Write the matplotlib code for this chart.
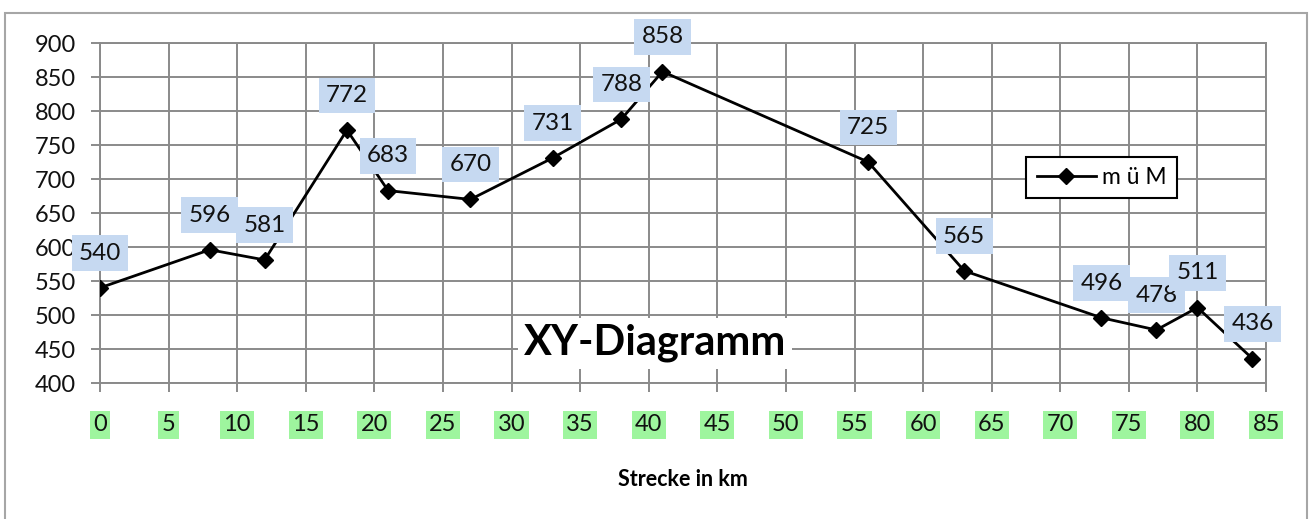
# XY-Diagramm: Höhenprofil (m ü M) entlang der Strecke
from matplotlib import pyplot as plt
from matplotlib.patches import Rectangle

# Daten ------------------------------------------
strecke_km = [0, 8, 12, 18, 21, 27, 33, 38, 41, 56, 63, 73, 77, 80, 84]
hoehe_m = [540, 596, 581, 772, 683, 670, 731, 788, 858, 725, 565, 496, 478, 511, 436]
x_ticks = list(range(0, 90, 5))
y_ticks = list(range(400, 950, 50))

plt.rcParams['font.family'] = ['Lato', 'DejaVu Sans']
grau = '#8a8a8a'

fig = plt.figure(figsize=(13.09, 5.19), dpi=100)
ax = fig.add_axes([0.0764, 0.262, 0.8908, 0.6551])

# äusserer Rahmen
fig.patches.append(Rectangle((5 / 1309, -0.1), 1302 / 1309, 1.1 - 13 / 519,
                             transform=fig.transFigure, fill=False,
                             edgecolor='#a6a6a6', lw=1.5))

# Linie mit Rauten
ax.plot(strecke_km, hoehe_m, color='black', lw=2, marker='D', markersize=8,
        label='m ü M', zorder=3)

# Datenbeschriftungen
for x, y in zip(strecke_km, hoehe_m):
    ax.annotate(str(y), (x, y), xytext=(0, 25), textcoords='offset points',
                ha='center', va='center', fontsize=17.5, color='#111111', zorder=4,
                bbox=dict(boxstyle='square,pad=0.3', fc='#c6d9f1', ec='none'))

# Achsen
ax.set_xlim(0, 85)
ax.set_ylim(400, 900)
ax.set_xticks(x_ticks)
ax.set_yticks(y_ticks)
ax.grid(color=grau, lw=1.4)
ax.set_axisbelow(True)
for s in ax.spines.values():
    s.set_color(grau)
    s.set_linewidth(1.4)
ax.tick_params(axis='both', color=grau, width=1.4, length=6.5, labelsize=17,
               labelcolor='#111111')
ax.tick_params(axis='x', pad=16)
ax.tick_params(axis='y', pad=11)
for lbl in ax.get_xticklabels():
    lbl.set_bbox(dict(boxstyle='square,pad=0.14', fc='#9ef59e', ec='none'))

ax.set_xlabel('Strecke in km', fontsize=15.5, fontweight='bold', labelpad=24)

# Titel im Diagramm
fig.text(0.5004, 0.339, 'XY-Diagramm', ha='center', va='center', fontsize=30,
         fontweight='bold', bbox=dict(boxstyle='square,pad=0.15', fc='white', ec='none'))

leg = ax.legend(loc='center', bbox_to_anchor=(0.8415, 0.658),
                bbox_transform=fig.transFigure, fontsize=16.5, fancybox=False,
                edgecolor='black', framealpha=1, handlelength=2.6,
                handletextpad=0.25, borderpad=0.45)
leg.get_frame().set_linewidth(1.5)

plt.savefig('out.png', dpi=100)
